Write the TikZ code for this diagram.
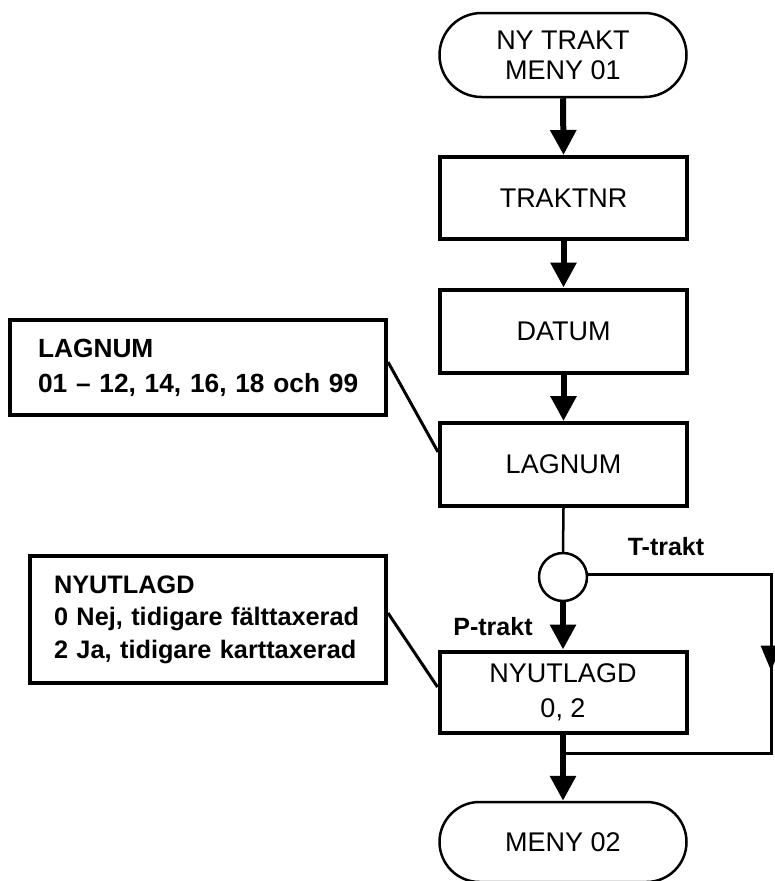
\documentclass[tikz,border=0pt]{standalone}
\usepackage{fontspec}
\setmainfont{Liberation Sans}
\usetikzlibrary{arrows.meta,shapes.misc,calc}
\begin{document}
\begin{tikzpicture}[x=1pt,y=-1pt,
  box/.style={draw, line width=4pt, minimum width=247pt, minimum height=82pt, inner sep=0pt, font=\fontsize{27}{35}\selectfont, align=center},
  term/.style={draw, rounded rectangle, line width=2.5pt, minimum width=247pt, minimum height=84pt, inner sep=0pt, font=\fontsize{27}{30}\selectfont, align=center},
  note/.style={draw, line width=4pt, inner ysep=0pt, align=left},
  flow/.style={line width=6pt, -{Triangle[length=25pt,width=25pt]}},
  thinline/.style={line width=2.5pt},
  loopline/.style={line width=3pt},
  lbl/.style={font=\bfseries\fontsize{25}{30}\selectfont, inner sep=0pt}
]
\useasboundingbox (0,0) rectangle (774,881);

% main column
\node[term] (start) at (563,55) {NY TRAKT\\MENY 01};
\node[box] (traktnr) at (563.5,198) {TRAKTNR};
\node[box, minimum height=83pt] (datum) at (563.5,331) {DATUM};
\node[box, minimum height=83pt] (lagnum) at (563.5,464.5) {LAGNUM};
\node[draw, circle, thinline, minimum size=48pt, inner sep=0pt] (dec) at (563,577) {};
\node[box, minimum height=81pt] (nyut) at (563,692) {NYUTLAGD\\0, 2};
\node[term, minimum height=80pt] (end) at (563,842) {MENY 02};

% notes
\node[note, minimum width=376pt, minimum height=95pt, text width=320pt, inner xsep=28pt,
      font=\bfseries\fontsize{26.3}{35}\selectfont] (note1) at (198,367.5)
  {\mbox{LAGNUM}\\\mbox{01 – 12, 14, 16, 18 och 99}};
\node[note, minimum width=356pt, minimum height=127pt, text width=308pt, inner xsep=24pt,
      font=\bfseries\fontsize{25.3}{32.5}\selectfont] (note2) at (208,619.5)
  {\mbox{NYUTLAGD}\\\mbox{0 Nej, tidigare fälttaxerad}\\\mbox{2 Ja, tidigare karttaxerad}};

% labels
\node[lbl] (tlbl) at (666,547) {T-trakt};
\node[lbl] (plbl) at (493,627) {P-trakt};

% flow arrows
\draw[flow] (start.south) -- (traktnr.north);
\draw[flow] (traktnr.south) -- (datum.north);
\draw[flow] (datum.south) -- (lagnum.north);
\draw[thinline] (lagnum.south) -- (dec.north);
\draw[flow] (dec.south) -- (nyut.north);

% T-trakt loop
\coordinate (tr) at (771,574);
\coordinate (br) at (771,753);
\coordinate (join) at (563,753);
\draw[loopline] ([yshift=3pt]dec.east) -- (tr) -- (br) -- (join);
\draw[line width=3pt, -{Triangle[length=25pt,width=20pt]}] (tr) -- ($(tr)!0.54!(br)$);

\draw[flow] (nyut.south) -- (end.north);

% note connectors
\draw[loopline] ([yshift=5.5pt]note1.east) -- ([yshift=12.5pt]lagnum.west);
\draw[loopline] ([yshift=6.5pt]note2.east) -- ([yshift=5pt]nyut.west);
\end{tikzpicture}
\end{document}
